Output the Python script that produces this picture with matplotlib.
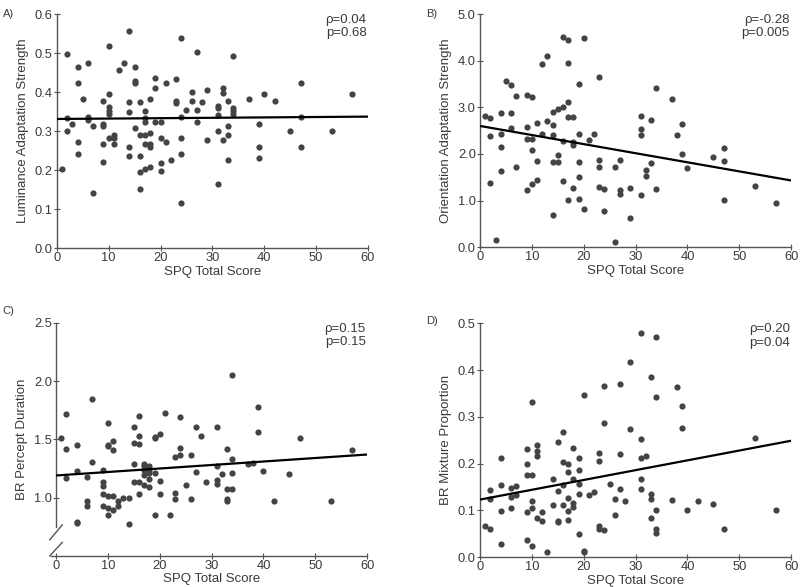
import matplotlib
matplotlib.use("Agg")
import matplotlib.pyplot as plt
import numpy as np

plt.rcParams['font.family'] = ['Liberation Sans', 'DejaVu Sans']

# x values (SPQ total score) and y values
lum_x = [1, 2, 2, 2, 3, 4, 4, 4, 4, 5, 6, 6, 6, 7, 7, 9, 9, 9, 9, 9, 10, 10, 10, 10, 10, 10,
         11, 11, 11, 12, 13, 14, 14, 14, 14, 14, 15, 15, 15, 15, 16, 16, 16, 16, 16,
         17, 17, 17, 17, 17, 17, 18, 18, 18, 18, 18, 19, 19, 19, 20, 20, 20, 20, 21, 21,
         22, 23, 23, 23, 24, 24, 24, 24, 24, 25, 26, 26, 27, 27, 27, 28, 29, 29,
         31, 31, 31, 31, 31, 32, 32, 32, 33, 33, 33, 33, 34, 34, 34, 34,
         37, 39, 39, 39, 40, 42, 45, 47, 47, 47, 53, 57]
lum_y = [0.202, 0.497, 0.333, 0.300, 0.318, 0.465, 0.424, 0.272, 0.240, 0.382, 0.474, 0.337, 0.328,
         0.314, 0.142, 0.378, 0.318, 0.314, 0.267, 0.221, 0.517, 0.396, 0.361, 0.352, 0.343, 0.282,
         0.291, 0.282, 0.267, 0.456, 0.474, 0.557, 0.374, 0.350, 0.258, 0.235, 0.465, 0.429, 0.423, 0.309,
         0.374, 0.290, 0.235, 0.194, 0.152,
         0.351, 0.333, 0.322, 0.290, 0.267, 0.203, 0.381, 0.294, 0.267, 0.258, 0.208, 0.437, 0.410, 0.322,
         0.322, 0.282, 0.217, 0.198, 0.423, 0.272,
         0.226, 0.433, 0.378, 0.373, 0.539, 0.337, 0.282, 0.240, 0.115, 0.355, 0.401, 0.378, 0.502, 0.355,
         0.322, 0.374, 0.405, 0.277,
         0.364, 0.359, 0.341, 0.299, 0.165, 0.410, 0.397, 0.277, 0.378, 0.314, 0.291, 0.225,
         0.493, 0.359, 0.351, 0.345,
         0.382, 0.318, 0.258, 0.231, 0.396, 0.378, 0.299, 0.424, 0.337, 0.258, 0.299, 0.396]

ori_x = [1, 2, 2, 2, 3, 4, 4, 4, 4, 5, 6, 6, 6, 7, 7, 9, 9, 9, 9, 10, 10, 10, 10, 11, 11, 11,
         12, 12, 13, 13, 14, 14, 14, 14, 14, 15, 15, 15, 16, 16, 16, 16, 17, 17, 17, 17, 17,
         18, 18, 18, 18, 19, 19, 19, 19, 19, 20, 20, 21, 22, 23, 23, 23, 23, 24, 24, 26, 26,
         27, 27, 27, 29, 29, 31, 31, 31, 31, 32, 32, 33, 33, 34, 34, 37, 38, 39, 39, 40,
         45, 47, 47, 47, 53, 57]
ori_y = [2.82, 2.78, 2.38, 1.38, 0.15, 2.88, 2.42, 2.14, 1.63, 3.57, 3.48, 2.88, 2.55, 3.24, 1.72,
         3.26, 2.58, 2.32, 1.23, 3.23, 2.32, 2.09, 1.36, 2.66, 1.85, 1.45,
         3.92, 2.42, 4.10, 2.70, 2.89, 2.61, 2.40, 1.83, 0.69, 2.97, 1.97, 1.83, 4.50, 3.01, 2.27, 1.41,
         4.45, 3.96, 3.11, 2.80, 1.02,
         2.80, 2.26, 2.20, 1.26, 3.51, 2.42, 1.83, 1.50, 1.04, 4.49, 0.82, 2.29, 2.43, 3.65, 1.87, 1.71,
         1.28, 1.25, 0.77, 1.72, 0.11,
         1.87, 1.23, 1.13, 1.27, 0.63, 2.81, 2.54, 2.40, 1.12, 1.65, 1.53, 2.73, 1.80, 3.41, 1.25,
         3.17, 2.40, 2.64, 2.00, 1.69,
         1.94, 2.12, 1.84, 1.02, 1.31, 0.95]

dur_x = [1, 2, 2, 2, 4, 4, 4, 4, 6, 6, 6, 7, 7, 9, 9, 9, 9, 9, 10, 10, 10, 10, 10, 10,
         11, 11, 11, 11, 12, 12, 13, 14, 14, 15, 15, 15, 15, 16, 16, 16, 16, 16,
         17, 17, 17, 17, 17, 18, 18, 18, 18, 18, 19, 19, 19, 19, 20, 20, 20, 21, 22,
         23, 23, 23, 24, 24, 24, 25, 26, 26, 27, 27, 28, 29, 31, 31, 31, 31, 32,
         33, 33, 33, 33, 34, 34, 34, 34, 37, 38, 39, 39, 40, 42, 45, 47, 53, 57]
dur_y = [1.51, 1.72, 1.42, 1.17, 1.45, 1.23, 0.79, 0.78, 1.18, 0.97, 0.93, 1.85, 1.31,
         1.24, 1.13, 1.10, 1.03, 0.93, 1.64, 1.45, 1.44, 1.01, 0.91, 0.85,
         1.49, 1.41, 1.01, 0.89, 0.97, 0.93, 1.00, 1.00, 0.77, 1.61, 1.47, 1.29, 1.13,
         1.70, 1.53, 1.46, 1.13, 1.03,
         1.29, 1.27, 1.24, 1.19, 1.11, 1.27, 1.24, 1.21, 1.16, 1.09, 1.52, 1.51, 1.21, 0.85,
         1.55, 1.14, 1.03, 1.73, 0.85,
         1.35, 1.04, 0.99, 1.69, 1.43, 1.37, 1.11, 1.37, 0.99, 1.61, 1.22, 1.53, 1.13,
         1.61, 1.27, 1.15, 1.12, 1.20,
         1.42, 1.07, 0.99, 0.97, 2.05, 1.33, 1.21, 1.07, 1.29, 1.30, 1.78, 1.56, 1.23, 0.97,
         1.20, 1.51, 0.97, 1.41]

mix_x = [1, 2, 2, 2, 4, 4, 4, 4, 6, 6, 6, 7, 7, 9, 9, 9, 9, 9, 10, 10, 10, 10, 10,
         11, 11, 11, 11, 12, 12, 13, 14, 14, 15, 15, 15, 15, 16, 16, 16, 16,
         17, 17, 17, 17, 17, 18, 18, 18, 18, 19, 19, 19, 19, 19, 20, 20, 20, 21, 22,
         23, 23, 23, 23, 24, 24, 24, 25, 26, 26, 27, 27, 27, 28, 29, 29,
         31, 31, 31, 31, 31, 32, 33, 33, 33, 33, 34, 34, 34, 34, 34,
         37, 38, 39, 39, 40, 42, 45, 47, 53, 57]
mix_y = [0.066, 0.143, 0.124, 0.059, 0.211, 0.154, 0.099, 0.028, 0.147, 0.129, 0.106, 0.152, 0.133,
         0.232, 0.200, 0.176, 0.096, 0.037, 0.332, 0.176, 0.119, 0.104, 0.024,
         0.239, 0.226, 0.216, 0.084, 0.096, 0.077, 0.010, 0.166, 0.112, 0.246, 0.142, 0.078, 0.076,
         0.267, 0.203, 0.154, 0.111,
         0.200, 0.181, 0.127, 0.099, 0.079, 0.234, 0.167, 0.116, 0.107, 0.213, 0.186, 0.156, 0.134, 0.050,
         0.346, 0.014, 0.010, 0.133, 0.139,
         0.222, 0.205, 0.067, 0.060, 0.367, 0.287, 0.057, 0.156, 0.124, 0.089, 0.371, 0.221, 0.146,
         0.120, 0.417, 0.274,
         0.479, 0.253, 0.211, 0.166, 0.146, 0.216, 0.385, 0.136, 0.125, 0.084, 0.470, 0.342, 0.101,
         0.059, 0.051,
         0.123, 0.363, 0.324, 0.277, 0.101, 0.121, 0.113, 0.061, 0.255, 0.101]

# regression line values at SPQ = 0 and SPQ = 60
fit_x = [0, 60]
lum_fit = [0.331, 0.337]
ori_fit = [2.60, 1.43]
dur_fit = [1.19, 1.37]
mix_fit = [0.123, 0.249]

letters = ["A)", "B)", "C)", "D)"]
ylabels = ["Luminance Adaptation Strength", "Orientation Adaptation Strength",
           "BR Percept Duration", "BR Mixture Proportion"]
stats = ["ρ=0.04\np=0.68", "ρ=-0.28\np=0.005", "ρ=0.15\np=0.15", "ρ=0.20\np=0.04"]
yticks = [[0.0, 0.1, 0.2, 0.3, 0.4, 0.5, 0.6],
          [0.0, 1.0, 2.0, 3.0, 4.0, 5.0],
          [1.0, 1.5, 2.0, 2.5],
          [0.0, 0.1, 0.2, 0.3, 0.4, 0.5]]
ylims = [(0, 0.6), (0, 5.0), (0.5, 2.5), (0, 0.5)]
xticks = [0, 10, 20, 30, 40, 50, 60]

dot_c = "#444444"
txt_c = "#3a3a3a"
ax_c = "#555555"

fig = plt.figure(figsize=(8, 5.87), dpi=100)
boxes = [[0.071, 0.5775, 0.389, 0.3985],
         [0.600, 0.579, 0.389, 0.397],
         [0.070, 0.053, 0.389, 0.397],
         [0.600, 0.051, 0.389, 0.398]]
letter_pos = [(0.004, 0.985), (0.533, 0.985), (0.003, 0.478), (0.533, 0.462)]

data = [(lum_x, lum_y, lum_fit), (ori_x, ori_y, ori_fit),
        (dur_x, dur_y, dur_fit), (mix_x, mix_y, mix_fit)]

for i in range(4):
    ax = fig.add_axes(boxes[i])
    x, y, fit = data[i]
    ax.scatter(x, y, s=20, color=dot_c, linewidths=0, zorder=3, clip_on=False)
    ax.plot(fit_x, fit, color="black", lw=1.6, zorder=4)
    ax.set_xlim(0, 60)
    ax.set_ylim(*ylims[i])
    ax.set_xticks(xticks)
    ax.set_yticks(yticks[i])
    ax.set_yticklabels(["%.1f" % v for v in yticks[i]])
    for s in ["top", "right"]:
        ax.spines[s].set_visible(False)
    for s in ["left", "bottom"]:
        ax.spines[s].set_color(ax_c)
        ax.spines[s].set_linewidth(1.0)
    ax.tick_params(direction="inout", length=4, width=0.8, color=ax_c,
                   labelsize=9.3, labelcolor=txt_c, pad=1)
    ax.set_xlabel("SPQ Total Score", fontsize=9.5, color=txt_c, labelpad=1)
    ax.set_ylabel(ylabels[i], fontsize=9.5, color=txt_c, labelpad=4)
    ax.text(0.995, 1.0, stats[i], transform=ax.transAxes, ha="right", va="top",
            fontsize=9.5, color=txt_c, linespacing=1.15)
    fig.text(letter_pos[i][0], letter_pos[i][1], letters[i], fontsize=8, color=txt_c,
             va="top")
    if i == 2:
        # broken y axis
        ax.spines["left"].set_bounds(0.75, 2.5)
        ax.spines["bottom"].set_bounds(-1.0, 60)
        ax.plot([-0.02, 0.02], [0.069, 0.133], transform=ax.transAxes,
                color=ax_c, lw=1.0, clip_on=False)
        ax.plot([-0.02, 0.02], [0.0, 0.058], transform=ax.transAxes,
                color=ax_c, lw=1.0, clip_on=False)

plt.savefig("out.png", dpi=100)
